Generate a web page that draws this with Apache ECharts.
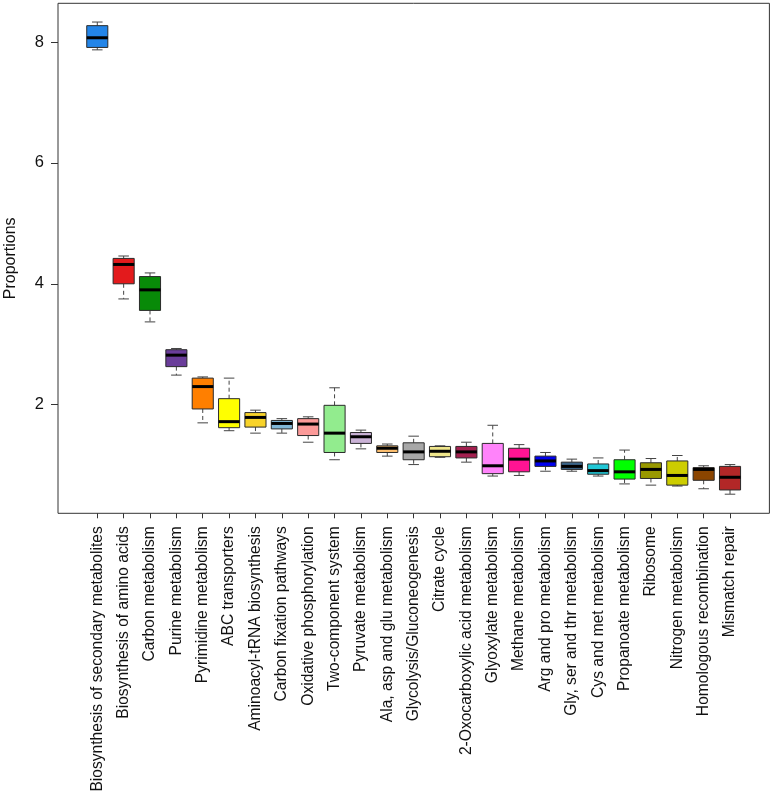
<!DOCTYPE html>
<html>
<head>
<meta charset="utf-8">
<style>
    html, body { margin: 0; padding: 0; background: #fff; }
    #chart { width: 773px; height: 796px; }
</style>
<script src="https://cdn.jsdelivr.net/npm/echarts@6/dist/echarts.min.js"></script>
</head>
<body>
<div id="chart"></div>
<script>
    var categories = [
        'Biosynthesis of secondary metabolites', 'Biosynthesis of amino acids', 'Carbon metabolism',
        'Purine metabolism', 'Pyrimidine metabolism', 'ABC transporters', 'Aminoacyl-tRNA biosynthesis',
        'Carbon fixation pathways', 'Oxidative phosphorylation', 'Two-component system', 'Pyruvate metabolism',
        'Ala, asp and glu metabolism', 'Glycolysis/Gluconeogenesis', 'Citrate cycle',
        '2-Oxocarboxylic acid metabolism', 'Glyoxylate metabolism', 'Methane metabolism',
        'Arg and pro metabolism', 'Gly, ser and thr metabolism', 'Cys and met metabolism',
        'Propanoate metabolism', 'Ribosome', 'Nitrogen metabolism', 'Homologous recombination', 'Mismatch repair'
    ];
    // five-number summaries
    var lowerWhisker = [7.87, 3.75, 3.37, 2.49, 1.70, 1.57, 1.53, 1.53, 1.38, 1.09, 1.27, 1.15, 1.01, 1.13, 1.05, 0.82, 0.83, 0.90, 0.90, 0.82, 0.69, 0.67, 0.655, 0.61, 0.52];
    var q1 = [7.91, 4.00, 3.56, 2.63, 1.93, 1.62, 1.63, 1.60, 1.49, 1.21, 1.36, 1.21, 1.09, 1.14, 1.12, 0.86, 0.89, 0.98, 0.93, 0.85, 0.77, 0.78, 0.67, 0.75, 0.59];
    var median = [8.07, 4.32, 3.90, 2.82, 2.30, 1.72, 1.79, 1.69, 1.68, 1.53, 1.47, 1.28, 1.22, 1.23, 1.22, 0.99, 1.10, 1.07, 0.98, 0.91, 0.89, 0.93, 0.83, 0.93, 0.80];
    var q3 = [8.27, 4.42, 4.12, 2.91, 2.44, 2.10, 1.87, 1.74, 1.77, 1.99, 1.54, 1.32, 1.37, 1.31, 1.31, 1.36, 1.28, 1.15, 1.05, 1.02, 1.09, 1.04, 1.07, 0.96, 0.98];
    var upperWhisker = [8.33, 4.46, 4.18, 2.93, 2.46, 2.44, 1.91, 1.77, 1.80, 2.28, 1.58, 1.35, 1.48, 1.32, 1.38, 1.66, 1.34, 1.21, 1.10, 1.12, 1.25, 1.11, 1.16, 0.99, 1.01];
    var yTicks = [2, 4, 6, 8];
    var boxColors = [
        '#2385e8', '#e31a1c', '#088a08', '#6a3d9a', '#ff7f00', '#ffff00', '#f8d32a', '#80b6d6',
        '#fb9a99', '#92ec8e', '#cab2d6', '#fdbf6f', '#a8a8a8', '#efe68c', '#a3204f', '#ff83fa',
        '#ff1493', '#0000ee', '#3b6589', '#21c7d6', '#00ff00', '#999900', '#cdcd00', '#8b4500', '#b22727'
    ];

    var boxData = categories.map(function (c, i) {
        return [i, lowerWhisker[i], q1[i], median[i], q3[i], upperWhisker[i]];
    });

    var yMin = 0.204, yMax = 8.64;

    var myChart = echarts.init(document.getElementById('chart'));
    myChart.setOption({
        animation: false,
        textStyle: { fontFamily: 'Liberation Sans, Arial, sans-serif' },
        grid: [
            // outer frame + y axis
            { left: 58, right: 3.6, top: 3.3, bottom: 282.7, show: true, borderColor: '#333', borderWidth: 1, outerBoundsMode: 'none' },
            // category band area (R extends the x range by half a slot more on each side)
            { left: 84.1, right: 29.8, top: 3.3, bottom: 282.7, outerBoundsMode: 'none' }
        ],
        xAxis: [
            { gridIndex: 0, type: 'value', min: 0, max: 1, show: false },
            {
                gridIndex: 1, type: 'category', data: categories,
                axisLine: { show: false },
                axisTick: { show: true, alignWithLabel: true, length: 5, lineStyle: { color: '#333' } },
                axisLabel: { rotate: 90, interval: 0, margin: 13, fontSize: 15.6, color: '#111' },
                splitLine: { show: false }
            }
        ],
        yAxis: [
            {
                gridIndex: 0, type: 'value', min: yMin, max: yMax,
                name: 'Proportions', nameLocation: 'middle', nameGap: 39,
                nameTextStyle: { fontSize: 16, color: '#111' },
                axisLine: { show: false },
                axisTick: { show: true, length: 7, customValues: yTicks, lineStyle: { color: '#333' } },
                axisLabel: { customValues: yTicks, fontSize: 16.5, color: '#111', margin: 14 },
                splitLine: { show: false }
            },
            { gridIndex: 1, type: 'value', min: yMin, max: yMax, show: false }
        ],
        series: [{
            type: 'custom',
            xAxisIndex: 1,
            yAxisIndex: 1,
            data: boxData,
            encode: { x: 0, y: [1, 2, 3, 4, 5] },
            renderItem: function (params, api) {
                var idx = api.value(0);
                var pLo = api.coord([idx, api.value(1)]);
                var pQ1 = api.coord([idx, api.value(2)]);
                var pMed = api.coord([idx, api.value(3)]);
                var pQ3 = api.coord([idx, api.value(4)]);
                var pHi = api.coord([idx, api.value(5)]);
                var bw = api.size([1, 0])[0] * 0.8;
                var cx = pMed[0];
                var half = bw / 2, capHalf = bw / 4;
                var whisk = { stroke: '#444', lineWidth: 1, lineDash: [4, 3] };
                var cap = { stroke: '#444', lineWidth: 1 };
                return {
                    type: 'group',
                    children: [
                        { type: 'line', shape: { x1: cx, y1: pQ3[1], x2: cx, y2: pHi[1] }, style: whisk },
                        { type: 'line', shape: { x1: cx, y1: pQ1[1], x2: cx, y2: pLo[1] }, style: whisk },
                        { type: 'line', shape: { x1: cx - capHalf, y1: pHi[1], x2: cx + capHalf, y2: pHi[1] }, style: cap },
                        { type: 'line', shape: { x1: cx - capHalf, y1: pLo[1], x2: cx + capHalf, y2: pLo[1] }, style: cap },
                        {
                            type: 'rect',
                            shape: { x: cx - half, y: pQ3[1], width: bw, height: pQ1[1] - pQ3[1] },
                            style: { fill: boxColors[params.dataIndex], stroke: '#2a2a2a', lineWidth: 1 }
                        },
                        { type: 'line', shape: { x1: cx - half, y1: pMed[1], x2: cx + half, y2: pMed[1] }, style: { stroke: '#000', lineWidth: 3 } }
                    ]
                };
            }
        }]
    });
</script>
</body>
</html>
